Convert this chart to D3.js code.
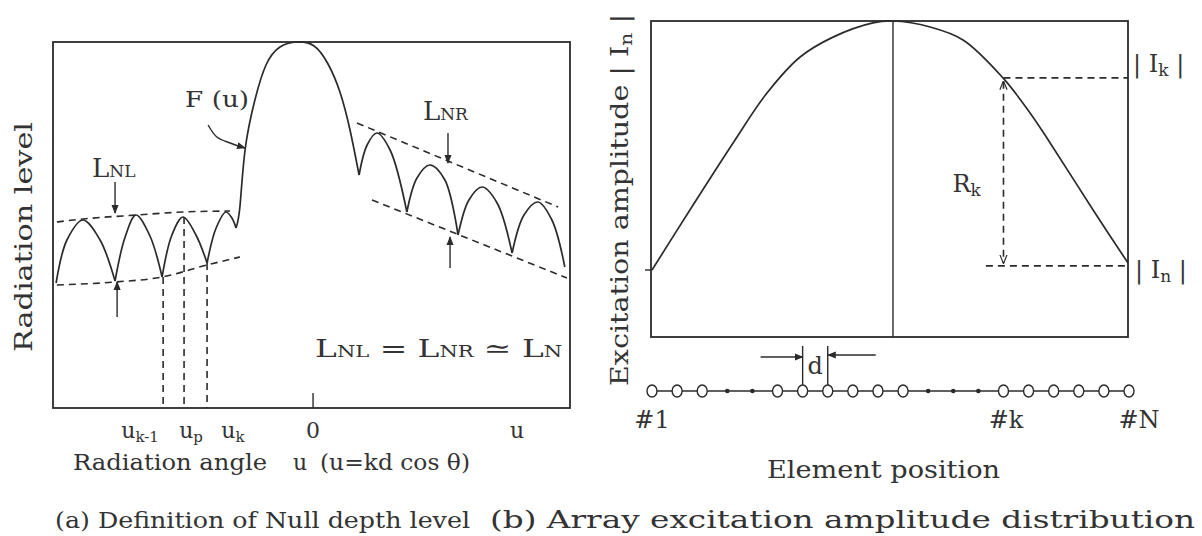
<!DOCTYPE html>
<html>
<head>
<meta charset="utf-8">
<title>Null depth level / array excitation</title>
<script src="https://d3js.org/d3.v7.min.js"></script>
<style>
  body { margin: 0; background: #fff; }
  svg text { font-family: "DejaVu Serif", serif; fill: #333; }
  .frame { fill: none; stroke: #2b2b2b; stroke-width: 1.8px; }
  .curve { fill: none; stroke: #2b2b2b; stroke-width: 1.7px; }
  .dash { fill: none; stroke: #2b2b2b; stroke-width: 1.6px; stroke-dasharray: 7,5; }
  .thin { fill: none; stroke: #2b2b2b; stroke-width: 1.4px; }
</style>
</head>
<body>
<svg id="fig" width="1202" height="536"></svg>
<script>
// ---------- panel (a) data : u (radiation angle) vs level (dB) ----------
var leftLobes = [
  [[-9.88,-24.1],[-9.46,-19.8],[-8.84,-17.8],[-8.18,-19.8],[-7.60,-23.9]],
  [[-7.60,-23.9],[-7.21,-19.5],[-6.79,-17.3],[-6.25,-19.4],[-5.78,-23.5]],
  [[-5.78,-23.5],[-5.40,-19.3],[-4.97,-17.5],[-4.47,-19.3],[-4.04,-22.1]],
  [[-4.04,-22.1],[-3.69,-18.6],[-3.31,-17.0],[-3.08,-17.6],[-2.92,-18.6]]
];
var mainLobe = [[-2.92,-18.6],[-2.77,-16.5],[-2.57,-10.8],[-2.19,-5.8],[-1.76,-2.3],[-1.22,-0.5],
  [-0.56,0],[0.10,-0.4],[0.64,-2.2],[1.10,-5.0],[1.49,-8.8],[1.84,-13.3]];
var rightLobes = [
  [[1.84,-13.3],[2.15,-10.3],[2.53,-9.1],[3.04,-10.8],[3.69,-17.0]],
  [[3.69,-17.0],[4.08,-13.6],[4.58,-12.3],[5.16,-13.8],[5.67,-19.3]],
  [[5.67,-19.3],[6.09,-15.8],[6.60,-14.5],[7.18,-16.1],[7.76,-21.1]],
  [[7.76,-21.1],[8.22,-17.3],[8.76,-16.0],[9.30,-17.8],[9.80,-22.5]]
];
var envLeftUpper  = [[-9.85,-18.0],[-8.84,-17.7],[-6.75,-17.3],[-4.97,-17.0],[-3.15,-16.9]];
var envLeftLower  = [[-9.85,-24.3],[-7.60,-24.0],[-5.78,-23.5],[-4.04,-22.3],[-2.77,-21.5]];
var envRightUpper = [[1.76,-8.1],[9.54,-16.5]];
var envRightLower = [[2.34,-15.8],[9.88,-23.6]];
var nullLineU   = [-5.74, -4.93, -4.04];
var nullLineTop = [-23.5, -17.5, -22.1];
var tickNames = ["u", "u", "u", "0", "u"];
var tickSubs  = ["k-1", "p", "k", "", ""];
var tickU     = [-6.63, -4.66, -3.04, 0.06, 7.95];
var fArrow    = [[-4.00,-8.3],[-3.66,-9.5],[-3.15,-10.1],[-2.57,-10.6]];

// ---------- panel (b) data : element index vs excitation amplitude ----------
var ampN = [0, 1.51, 3.23, 4.58, 5.90, 7.21, 8.80, 9.60, 11.08, 12.39, 13.98, 15.06, 15.86, 17.57, 18.96];
var ampA = [0.212, 0.402, 0.614, 0.772, 0.886, 0.949, 0.994, 1.0, 0.981, 0.940, 0.820, 0.709, 0.614, 0.402, 0.234];
var elemKind = "ooo..oooooo...oooooo".split("");
var elemNames = ["#1", "#k", "#N"];
var elemNameN = [0, 14.1, 19.4];
var kIndex = 14, ampK = 0.82, ampEdge = 0.225, centerN = 9.6;
var dPair = [6, 7];

var svg = d3.select("#fig");

function label(x, y, parts, size, opt) {
  opt = opt || {};
  var t = svg.append("text").attr("x", x).attr("y", y)
    .attr("font-size", size).attr("text-anchor", opt.anchor || "start");
  if (opt.rotate) t.attr("transform", "rotate(-90," + x + "," + y + ")");
  parts.forEach(function(p) {
    var s = t.append("tspan").text(p[0]);
    if (p[1]) s.attr("font-size", p[1]);
    if (p[2]) s.attr("dy", p[2]);
  });
  if (opt.len) t.attr("textLength", opt.len).attr("lengthAdjust", "spacingAndGlyphs");
  return t;
}

// arrow heads
var defs = svg.append("defs");
defs.append("marker").attr("id", "head").attr("viewBox", "0 0 10 10")
  .attr("refX", 9).attr("refY", 5).attr("markerWidth", 9).attr("markerHeight", 9)
  .attr("markerUnits", "userSpaceOnUse").attr("orient", "auto")
  .append("path").attr("d", "M0,1 L10,5 L0,9 Z").attr("fill", "#2b2b2b");
defs.append("marker").attr("id", "vee").attr("viewBox", "0 0 10 10")
  .attr("refX", 9).attr("refY", 5).attr("markerWidth", 9).attr("markerHeight", 9)
  .attr("markerUnits", "userSpaceOnUse").attr("orient", "auto-start-reverse")
  .append("path").attr("d", "M0,1 L10,5 L0,9").attr("fill", "none")
  .attr("stroke", "#2b2b2b").attr("stroke-width", 1.3);

// ================= panel (a) =================
var xa = d3.scaleLinear().domain([-10, 10]).range([53, 570]);
var ya = d3.scaleLinear().domain([-36.6, 0]).range([408, 42]);

svg.append("rect").attr("class", "frame")
  .attr("x", xa(-10)).attr("y", ya(0)).attr("width", xa(10) - xa(-10)).attr("height", ya(-36.6) - ya(0));

var lobeLine = d3.line().x(function(d) { return xa(d[0]); }).y(function(d) { return ya(d[1]); })
  .curve(d3.curveCatmullRom.alpha(0.5));
leftLobes.concat(rightLobes).forEach(function(l) {
  svg.append("path").attr("class", "curve").attr("d", lobeLine(l));
});
svg.append("path").attr("class", "curve")
  .attr("d", d3.line().x(function(d) { return xa(d[0]); }).y(function(d) { return ya(d[1]); })
    .curve(d3.curveNatural)(mainLobe));

var envLine = d3.line().x(function(d) { return xa(d[0]); }).y(function(d) { return ya(d[1]); })
  .curve(d3.curveMonotoneX);
[envLeftUpper, envLeftLower, envRightUpper, envRightLower].forEach(function(e) {
  svg.append("path").attr("class", "dash").attr("d", envLine(e));
});

nullLineU.forEach(function(u, i) {
  svg.append("line").attr("class", "dash")
    .attr("x1", xa(u)).attr("x2", xa(u)).attr("y1", ya(nullLineTop[i])).attr("y2", ya(-36.6));
});

// zero tick
svg.append("line").attr("class", "thin")
  .attr("x1", xa(0.06)).attr("x2", xa(0.06)).attr("y1", ya(-36.6)).attr("y2", ya(-36.6) - 15);

tickU.forEach(function(u, i) {
  var parts = [[tickNames[i]]];
  if (tickSubs[i]) parts.push([tickSubs[i], 15, 4]);
  label(xa(u), 438, parts, 22, { anchor: "middle" });
});

// null level arrows
[[-7.60, -14.0, -17.1], [-7.52, -27.5, -24.0], [5.28, -9.1, -12.1], [5.36, -22.6, -19.5]].forEach(function(a) {
  svg.append("line").attr("class", "thin").attr("marker-end", "url(#head)")
    .attr("x1", xa(a[0])).attr("x2", xa(a[0])).attr("y1", ya(a[1])).attr("y2", ya(a[2]));
});

svg.append("path").attr("class", "thin").attr("marker-end", "url(#head)")
  .attr("d", d3.line().x(function(d) { return xa(d[0]); }).y(function(d) { return ya(d[1]); })
    .curve(d3.curveCatmullRom)(fArrow));

label(xa(-4.89), ya(-6.5), [["F (u)"]], 23, { len: 64 });
label(xa(-8.49), ya(-13.5), [["L", 26], ["NL", 17]], 26);
label(xa(4.31), ya(-7.8), [["L", 26], ["NR", 17]], 26);
label(xa(0.14), ya(-31.5), [["L", 25], ["NL", 16], [" = L", 25], ["NR", 16], [" \u2243 L", 25], ["N", 16]], 25,
  { len: 247 });

label(32, 237, [["Radiation level"]], 24, { anchor: "middle", rotate: true, len: 230 });
label(73, 470, [["Radiation angle"]], 22, { len: 194 });
label(293, 470, [["u"]], 22);
label(320, 470, [["(u=kd cos \u03b8)"]], 22, { len: 150 });
label(55, 528, [["(a) Definition of Null depth level"]], 22, { len: 415 });

// ================= panel (b) =================
var xb = d3.scaleLinear().domain([0, 19]).range([652, 1129]);
var yb = d3.scaleLinear().domain([0, 1]).range([337, 21]);
var ampData = ampN.map(function(n, i) { return [n, ampA[i]]; });

svg.append("rect").attr("class", "frame")
  .attr("x", xb(-0.04)).attr("y", yb(1)).attr("width", xb(18.96) - xb(-0.04)).attr("height", yb(0) - yb(1));
svg.append("line").attr("class", "thin")
  .attr("x1", xb(centerN)).attr("x2", xb(centerN)).attr("y1", yb(1)).attr("y2", yb(0));

svg.append("path").attr("class", "curve")
  .attr("d", d3.line().x(function(d) { return xb(d[0]); }).y(function(d) { return yb(d[1]); })
    .curve(d3.curveCatmullRom.alpha(0.5))(ampData));
svg.append("line").attr("class", "thin")
  .attr("x1", xb(0) - 7).attr("x2", xb(0)).attr("y1", yb(ampA[0])).attr("y2", yb(ampA[0]));

svg.append("line").attr("class", "dash")
  .attr("x1", xb(kIndex)).attr("x2", xb(18.96)).attr("y1", yb(ampK)).attr("y2", yb(ampK));
svg.append("line").attr("class", "dash")
  .attr("x1", xb(13.3)).attr("x2", xb(18.96)).attr("y1", yb(ampEdge)).attr("y2", yb(ampEdge));
svg.append("line").attr("class", "dash")
  .attr("marker-start", "url(#vee)").attr("marker-end", "url(#vee)")
  .attr("x1", xb(kIndex)).attr("x2", xb(kIndex)).attr("y1", yb(ampK - 0.012)).attr("y2", yb(ampEdge + 0.01));

label(xb(kIndex) - 51, 192, [["R", 24], ["k", 17, 4]], 24);
label(xb(19) + 4, 72, [["| I", 24], ["k", 17, 4], [" |", 24, -4]], 24);
label(xb(19) + 6, 278, [["| I", 24], ["n", 17, 4], [" |", 24, -4]], 24);

// element row
var rowY = 391;
svg.append("line").attr("class", "thin")
  .attr("x1", xb(0)).attr("x2", xb(19)).attr("y1", rowY).attr("y2", rowY);
svg.selectAll(".elem").data(elemKind).enter().append("ellipse")
  .attr("class", "elem")
  .attr("cx", function(d, i) { return xb(i); }).attr("cy", rowY)
  .attr("rx", function(d) { return d === "o" ? 5 : 1.6; })
  .attr("ry", function(d) { return d === "o" ? 6 : 1.6; })
  .attr("fill", function(d) { return d === "o" ? "#fff" : "#2b2b2b"; })
  .attr("stroke", "#2b2b2b").attr("stroke-width", 1.4);

elemNames.forEach(function(s, i) {
  label(xb(elemNameN[i]), 428, [[s]], 24, { anchor: "middle" });
});

// element spacing d
dPair.forEach(function(n) {
  svg.append("line").attr("class", "thin")
    .attr("x1", xb(n)).attr("x2", xb(n)).attr("y1", 346).attr("y2", rowY - 6);
});
svg.append("line").attr("class", "thin").attr("marker-end", "url(#head)")
  .attr("x1", xb(dPair[0]) - 42).attr("x2", xb(dPair[0])).attr("y1", 357).attr("y2", 357);
svg.append("line").attr("class", "thin").attr("marker-end", "url(#head)")
  .attr("x1", xb(dPair[1]) + 48).attr("x2", xb(dPair[1])).attr("y1", 355).attr("y2", 355);
label((xb(dPair[0]) + xb(dPair[1])) / 2, 374, [["d"]], 24, { anchor: "middle" });

label(628, 200, [["Excitation amplitude | I", 24], ["n", 17, 4], [" |", 24, -4]], 24,
  { anchor: "middle", rotate: true, len: 372 });
label(767, 478, [["Element position"]], 24, { len: 233 });
label(490, 528, [["(b) Array excitation amplitude distribution"]], 24, { len: 705 });
</script>
</body>
</html>
